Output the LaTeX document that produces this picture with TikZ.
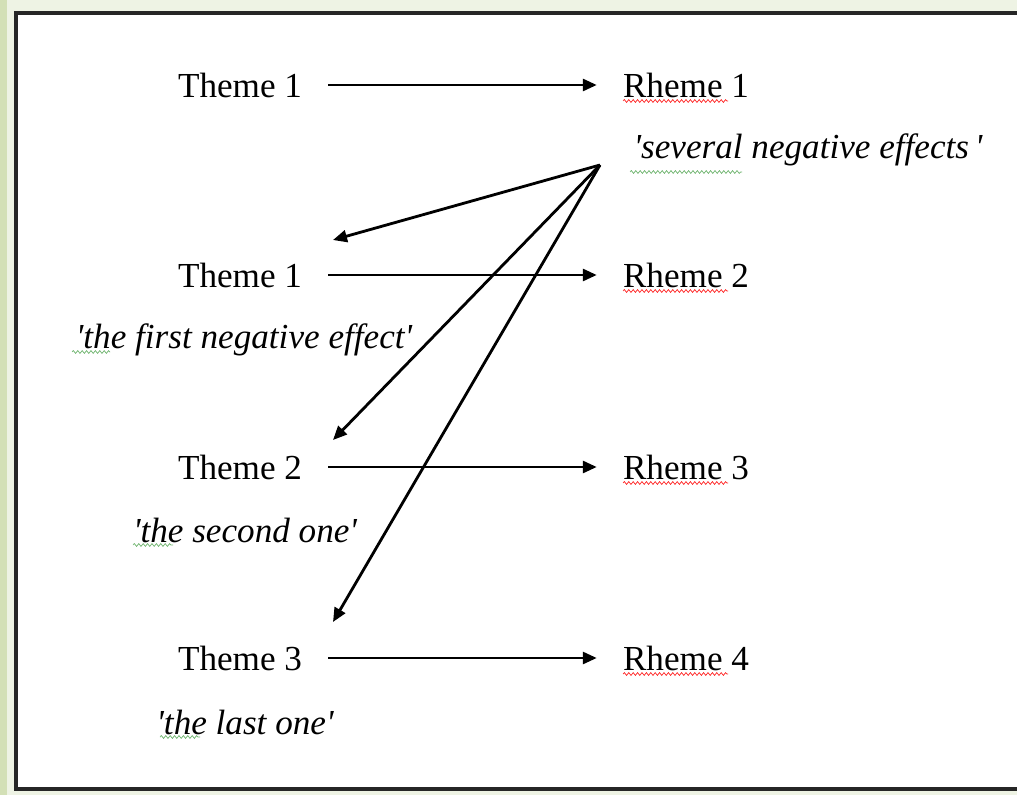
\documentclass[tikz,border=0pt]{standalone}
\usepackage{fontspec}
\setmainfont{Liberation Serif}
\usetikzlibrary{arrows.meta,decorations.pathmorphing}

\definecolor{pagegreen}{HTML}{EEF3E4}
\definecolor{stripgreen}{HTML}{D3E0B6}
\definecolor{spellgreen}{HTML}{6FB56F}

\tikzset{
  word/.style={inner xsep=6.5mm,inner ysep=1mm,font=\fontsize{25}{30}\selectfont},
  quote/.style={inner sep=0pt,font=\fontsize{25}{30}\selectfont\itshape},
  link/.style={line width=2pt,-{Triangle[length=3.5mm,width=3mm]}},
  redwave/.style={red!85,line width=0.5pt,decorate,decoration={snake,amplitude=0.35mm,segment length=1.1mm}},
  greenwave/.style={spellgreen,line width=0.5pt,decorate,decoration={snake,amplitude=0.35mm,segment length=1.1mm}}
}

\begin{document}
\begin{tikzpicture}[x=0.25mm,y=-0.25mm]
\useasboundingbox (0,0) rectangle (1017,795);
\clip (0,0) rectangle (1017,795);
\fill[pagegreen] (0,0) rectangle (1017,795);
\fill[stripgreen] (0,0) rectangle (7,795);
\fill[white] (16,13) rectangle (1040,789);
\draw[line width=1mm,black!85] (16,13) rectangle (1040,789);

% themes and rhemes
\node[word] (t1) at (240,85) {Theme 1};
\node[word] (r1) at (686,85) {Rheme 1};
\node[word] (t2) at (240,275) {Theme 1};
\node[word] (r2) at (686,275) {Rheme 2};
\node[word] (t3) at (240,467) {Theme 2};
\node[word] (r3) at (686,467) {Rheme 3};
\node[word] (t4) at (240,658) {Theme 3};
\node[word] (r4) at (686,658) {Rheme 4};

% glosses
\node[quote] (qs) at (808,150) {\textquotesingle several negative effects\,\textquotesingle};
\node[quote] (q1) at (244,340) {\textquotesingle the first negative effect\textquotesingle};
\node[quote] (q2) at (245,530) {\textquotesingle the second one\textquotesingle};
\node[quote] (q3) at (245,722) {\textquotesingle the last one\textquotesingle};

\foreach \a/\b in {t1/r1,t2/r2,t3/r3,t4/r4} \draw[link] (\a) -- (\b);

\coordinate (src) at (600,165);
\coordinate (e2) at (333,240);
\coordinate (e3) at (333,440);
\coordinate (e4) at (333,622);
\foreach \e in {e2,e3,e4} \draw[link] (src) -- (\e);

% spelling marks
\foreach \y in {101,291,483,674} \draw[redwave] (623,\y) -- (728,\y);
\draw[greenwave] (630,172) -- (742,172);
\draw[greenwave] (72,352) -- (110,352);
\draw[greenwave] (133,545) -- (173,545);
\draw[greenwave] (160,737) -- (200,737);
\end{tikzpicture}
\end{document}
